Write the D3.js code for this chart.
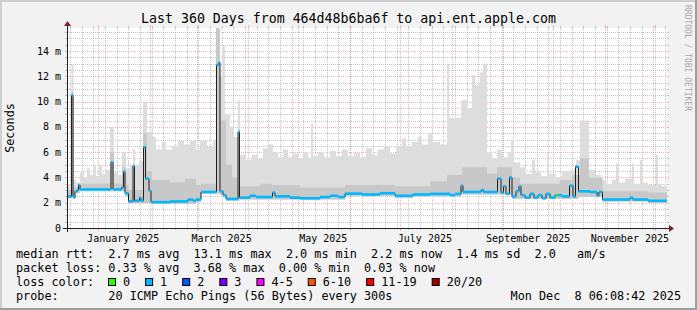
<!DOCTYPE html>
<html><head><meta charset="utf-8">
<script src="https://cdn.jsdelivr.net/npm/d3@7"></script>
<style>
html,body{margin:0;padding:0;background:#fff;}
svg{display:block;}
text{font-family:"DejaVu Sans Mono",monospace;white-space:pre;}
</style></head><body>
<svg id="c" width="697" height="310"></svg>
<script>
// ---------- data ----------
const title = "Last 360 Days from 464d48b6ba6f to api.ent.apple.com";
const startTime = "2024-12-13T06:08:42Z";
const endTime = "2025-12-08T06:08:42Z";
const totalDays = 360;
const yMax = 15.82;                       // ms, top of plot
const yTickValues = [0, 2, 4, 6, 8, 10, 12, 14];
const yTickLabels = ["0", "2 m", "4 m", "6 m", "8 m", "10 m", "12 m", "14 m"];
const yLabel = "Seconds";

// median rtt (ms): step values, day offset from start
const medDays = [0,2.7,3.6,4.2,4.8,6.2,6.9,7.8,26.4,27.6,32.7,33.9,34.8,36.9,39.6,40.5,43.5,44.4,45.9,47.1,49.2,50.4,61.8,72.6,75.6,77.4,80.4,89.7,91.2,91.8,93.6,95.4,102.6,103.5,109.8,113.4,123.3,124.8,133.8,139.8,151.8,157.8,162.6,166.8,177,187.8,196.8,207.6,217.8,229.8,232.8,236.4,237.6,248.4,249.9,258.3,260.4,261.9,263.4,265.5,267,269.4,271.2,272.4,274.8,277.8,280.2,282.6,285,287.4,289.8,292.8,297,301.5,303.6,305.1,306.9,313.8,318,319.2,321.3,337.8,339.6,348.6];
const medMs   = [2.5,10.5,2.5,2.4,2.9,3.0,3.4,3.05,5.2,3.05,3.2,4.45,2.75,2.1,4.9,2.15,2.4,2.15,6.4,3.9,2.95,2.05,2.1,2.25,2.15,2.25,2.85,12.9,13.1,2.9,2.6,2.3,7.6,2.4,2.55,2.45,2.8,2.5,2.4,2.35,2.45,2.55,2.45,2.72,2.65,2.75,2.55,2.65,2.7,2.6,2.7,3.35,2.85,3.0,2.85,3.9,2.8,3.3,2.7,4.0,2.5,2.9,3.3,2.6,2.4,2.7,2.4,2.6,2.35,2.7,2.4,2.6,2.5,3.35,2.5,4.85,2.9,2.85,2.55,2.85,2.25,2.4,2.25,2.15];

// highest ping (light smoke top)
const maxDays = [0,2.7,3.9,5.4,7.8,10.2,12,13.8,15.6,17.4,19.2,21,23.4,25.8,28.2,30.6,33,35.4,37.8,39.6,40.8,43.2,45.6,48,51,53.4,57,59.4,63,66.6,70.2,73.8,77.4,79.8,84,87.6,89.4,91.8,93.3,94.8,97.8,100.2,102.6,103.8,107.4,111,114.6,117.6,120.6,123.6,126.6,129.6,132.6,135.6,138.6,141.6,144.6,146.4,147.6,150.6,154.2,157.8,161.4,165,168.6,172.2,175.8,179.4,183,186.6,190.2,193.8,197.4,201,203.4,207,210.6,213,216.6,219,223.8,228,229.2,236.4,240,243,244.8,247.8,249.6,252,255,258,261,264.6,266.4,268.2,271.8,275.4,279,280.8,284.4,288,289.2,293.4,297,301.8,305.4,307.8,313.2,316.8,320.4,323.4,327,329.4,330.6,334.8,339,340.2,343.8,345,348.6,353.4,354.6,357];
const maxMs   = [3.4,12.9,3.8,3.6,4.4,4.0,4.7,4.2,5.0,4.1,5.0,4.3,4.6,8.0,4.4,4.2,6.0,4.7,5.0,6.2,5.0,5.3,10.0,7.6,7.2,6.2,6.8,6.2,6.5,6.9,6.6,6.9,6.2,6.9,6.4,7.0,15.8,12.0,14.4,9.0,8.0,7.2,10.1,5.8,5.4,5.8,5.5,6.3,6.6,6.0,5.6,6.2,5.6,5.9,5.5,6.0,5.6,8.2,5.7,6.0,5.6,6.1,5.7,6.2,5.7,6.0,5.6,6.3,5.8,6.2,6.4,5.9,6.5,7.1,6.5,6.8,7.2,6.6,7.5,6.8,6.6,13.0,8.7,10.1,9.5,12.1,11.3,12.3,13.0,6.0,5.5,6.2,5.6,6.0,7.0,5.2,4.8,4.3,5.4,4.4,4.1,5.9,4.3,4.0,4.5,4.6,5.4,8.5,4.6,4.2,3.8,3.5,3.8,5.1,3.6,3.9,5.1,3.5,5.4,3.6,3.4,5.8,3.5,3.3];

// upper quartile ping (darker smoke top)
const midDays = [0,2.7,3.9,7.8,25.8,28.2,33,35.4,36.9,39.6,40.8,45.6,48,51,61.8,70.8,77.4,80.4,89.4,91.8,95.4,99,102.6,103.8,115.8,123,139.8,166.8,196.8,217.8,228,237,252,258,267,271.8,295.8,303,307.8,313.2,321.3,348.6];
const midMs   = [3.0,10.8,3.2,3.5,6.0,3.5,4.8,3.4,3.0,5.0,3.0,7.5,4.5,3.8,3.6,3.9,3.4,3.5,15.8,8.5,5.0,4.0,7.8,3.3,3.5,3.4,3.2,3.4,3.3,3.7,4.2,4.8,4.3,4.8,4.0,3.5,3.8,4.2,5.5,4.0,2.9,2.8];

// lowest ping (smoke bottom)
const minDays = [0,4.2,4.8,7.8,34.8,36.9,50.4,77.4,80.4,91.8,93.6,95.4,103.5,166.8,196.8,207.6,236.4,267,306.9,321.3,348.6];
const minMs   = [2.35,2.3,2.75,2.9,2.55,1.95,1.9,2.05,2.7,2.6,2.45,2.15,2.25,2.55,2.4,2.5,2.65,2.3,2.45,2.1,2.0];

// packet loss class of the median line (index into lossLabels)
const lossDays = [0, 293.2, 294.4];
const lossClass = [1, 0, 1];

const lossLabels = ["0", "1", "2", "3", "4-5", "6-10", "11-19", "20/20"];
const lossColors = ["#26ff00", "#00b8ff", "#0059ff", "#7e00ff", "#ff00ff", "#ff5500", "#ff0000", "#a10000"];

const legendRtt  = "median rtt:  2.7 ms avg  13.1 ms max  2.0 ms min  2.2 ms now  1.4 ms sd  2.0   am/s";
const legendLoss = "packet loss: 0.33 % avg  3.68 % max  0.00 % min  0.03 % now";
const legendLossColor = "loss color:";
const legendProbe = "probe:       20 ICMP Echo Pings (56 Bytes) every 300s";
const stamp = "Mon Dec  8 06:08:42 2025";
const watermark = "RRDTOOL / TOBI OETIKER";

// ---------- drawing ----------
const W = 697, H = 310;
const X0 = 67, X1 = 667, Y0 = 228, Y1 = 28;
const svg = d3.select("#c");
const t0 = new Date(startTime), t1 = new Date(endTime);
const x = d3.scaleUtc().domain([t0, t1]).range([X0, X1]);
const y = d3.scaleLinear().domain([0, yMax]).range([Y0, Y1]);
const dd = d => new Date(t0.getTime() + d * 864e5);
const px = v => Math.round(v) + 0.5;

const C = {back:"#f2f2f2", shadeA:"#cfcfcf", shadeB:"#9e9e9e", grid:"rgba(150,150,150,0.55)",
  mgrid:"rgba(230,90,90,0.45)", arrow:"#801f1f", axis:"#1f1f1f"};

svg.append("rect").attr("width", W).attr("height", H).attr("fill", C.back);
svg.append("rect").attr("x",0).attr("y",0).attr("width",W).attr("height",2).attr("fill",C.shadeA);
svg.append("rect").attr("x",0).attr("y",0).attr("width",2).attr("height",H).attr("fill",C.shadeA);
svg.append("rect").attr("x",0).attr("y",H-2).attr("width",W).attr("height",2).attr("fill",C.shadeB);
svg.append("rect").attr("x",W-2).attr("y",0).attr("width",2).attr("height",H).attr("fill",C.shadeB);
svg.append("rect").attr("x", X0).attr("y", Y1).attr("width", X1 - X0).attr("height", Y0 - Y1).attr("fill", "#fff");

// grid
const g = svg.append("g").attr("shape-rendering", "crispEdges");
const minorY = d3.range(0.5, yMax, 0.5).filter(v => v % 2 !== 0);
const majorY = d3.range(2, yMax, 2);
const minorX = d3.utcSunday.range(t0, t1);
const majorX = d3.utcMonth.range(t0, t1);
minorY.forEach(v => {
  const yy = px(y(v));
  g.append("line").attr("x1", X0).attr("x2", X1).attr("y1", yy).attr("y2", yy)
    .attr("stroke", C.grid).attr("stroke-dasharray", "1,1");
  g.append("line").attr("x1", X0-2).attr("x2", X0).attr("y1", yy).attr("y2", yy).attr("stroke", C.grid);
  g.append("line").attr("x1", X1).attr("x2", X1+2).attr("y1", yy).attr("y2", yy).attr("stroke", C.grid);
});
minorX.forEach(t => {
  const xx = px(x(t));
  g.append("line").attr("x1", xx).attr("x2", xx).attr("y1", Y1).attr("y2", Y0)
    .attr("stroke", C.grid).attr("stroke-dasharray", "1,1");
  g.append("line").attr("x1", xx).attr("x2", xx).attr("y1", Y0).attr("y2", Y0+2).attr("stroke", C.grid);
  g.append("line").attr("x1", xx).attr("x2", xx).attr("y1", Y1-2).attr("y2", Y1).attr("stroke", C.grid);
});
majorY.forEach(v => {
  const yy = px(y(v));
  g.append("line").attr("x1", X0).attr("x2", X1).attr("y1", yy).attr("y2", yy)
    .attr("stroke", C.mgrid).attr("stroke-dasharray", "1,1");
  g.append("line").attr("x1", X0-2).attr("x2", X0).attr("y1", yy).attr("y2", yy).attr("stroke", C.mgrid);
  g.append("line").attr("x1", X1).attr("x2", X1+2).attr("y1", yy).attr("y2", yy).attr("stroke", C.mgrid);
});
majorX.forEach(t => {
  const xx = px(x(t));
  g.append("line").attr("x1", xx).attr("x2", xx).attr("y1", Y1).attr("y2", Y0)
    .attr("stroke", C.mgrid).attr("stroke-dasharray", "1,1");
  g.append("line").attr("x1", xx).attr("x2", xx).attr("y1", Y0).attr("y2", Y0+3).attr("stroke", C.mgrid);
  g.append("line").attr("x1", xx).attr("x2", xx).attr("y1", Y1-3).attr("y2", Y1).attr("stroke", C.mgrid);
});

// data
svg.append("clipPath").attr("id", "clip").append("rect")
  .attr("x", X0).attr("y", Y1).attr("width", X1 - X0).attr("height", Y0 - Y1);
const dg = svg.append("g").attr("clip-path", "url(#clip)");

function stepAt(days, vals, t) { const i = d3.bisectRight(days, t) - 1; return vals[Math.max(0, i)]; }
function band(dA, vA, dB, vB) {
  const bps = Array.from(new Set([...dA, ...dB])).sort((a, b) => a - b);
  const pts = bps.map(d => ({d, lo: stepAt(dA, vA, d), hi: stepAt(dB, vB, d)}));
  const last = pts[pts.length - 1];
  pts.push({d: totalDays, lo: last.lo, hi: last.hi});
  return pts;
}
const area = d3.area().curve(d3.curveStepAfter)
  .x(p => x(dd(p.d))).y0(p => y(p.lo)).y1(p => y(Math.min(p.hi, yMax + 0.5)));

dg.append("path").attr("d", area(band(minDays, minMs, maxDays, maxMs))).attr("fill", "#dddddd");
dg.append("path").attr("d", area(band(minDays, minMs, midDays, midMs))).attr("fill", "#c8c8c8");

const medPts = medDays.map((d, i) => ({d, v: medMs[i]}));
medPts.push({d: totalDays, v: medMs[medMs.length - 1]});
const line = d3.line().curve(d3.curveStepAfter).x(p => x(dd(p.d))).y(p => y(p.v));
dg.append("path").attr("d", line(medPts)).attr("fill", "none").attr("stroke", "#202020").attr("stroke-width", 1);

const segB = Array.from(new Set([...medDays, ...lossDays])).sort((a, b) => a - b);
segB.forEach((d, i) => {
  const dn = i + 1 < segB.length ? segB[i + 1] : totalDays;
  const v = stepAt(medDays, medMs, d);
  const cls = stepAt(lossDays, lossClass, d);
  const xa = x(dd(d)), xb = x(dd(dn));
  dg.append("rect").attr("x", xa).attr("width", Math.max(0.5, xb - xa))
    .attr("y", y(v) - 1.3).attr("height", 2.6).attr("fill", lossColors[cls]);
});

// axes
svg.append("line").attr("x1", X0 - 4).attr("x2", X1 + 4).attr("y1", Y0 + 0.5).attr("y2", Y0 + 0.5)
  .attr("stroke", C.axis).attr("shape-rendering", "crispEdges");
svg.append("line").attr("x1", X0 + 0.5).attr("x2", X0 + 0.5).attr("y1", Y0 + 4).attr("y2", Y1 - 4)
  .attr("stroke", C.axis).attr("shape-rendering", "crispEdges");
svg.append("path").attr("d", `M${X1+2},${Y0-3}L${X1+2},${Y0+4}L${X1+7},${Y0+0.5}Z`).attr("fill", C.arrow);
svg.append("path").attr("d", `M${X0-3},${Y1-2}L${X0+4},${Y1-2}L${X0+0.5},${Y1-7}Z`).attr("fill", C.arrow);

// y labels
yTickValues.forEach((v, i) => {
  svg.append("text").attr("x", 61).attr("y", y(v) + 3.5).attr("text-anchor", "end")
    .attr("font-size", "10px").attr("fill", "#000").text(yTickLabels[i]);
});
svg.append("text").attr("transform", `translate(14,${(Y0 + Y1) / 2}) rotate(-90)`)
  .attr("text-anchor", "middle").attr("font-size", "11.8px").text(yLabel);

// x labels: every second month, centred in the month
const fmt = d3.utcFormat("%B %Y");
majorX.filter(t => t.getUTCMonth() % 2 === 0).forEach(t => {
  const mid = d3.utcDay.offset(t, 15);
  svg.append("text").attr("x", x(mid)).attr("y", 242).attr("text-anchor", "middle")
    .attr("font-size", "10px").text(fmt(t));
});

// title
svg.append("text").attr("x", W / 2).attr("y", 23).attr("text-anchor", "middle")
  .attr("font-size", "13.25px").text(title);

// watermark
svg.append("text").attr("transform", "translate(685,5) rotate(90)")
  .attr("font-size", "8px").attr("fill", "#a8a8a8").text(watermark);

// legend
const LX = 16, LF = "11.8px";
svg.append("text").attr("x", LX).attr("y", 257.5).attr("font-size", LF).text(legendRtt);
svg.append("text").attr("x", LX).attr("y", 271.5).attr("font-size", LF).text(legendLoss);
svg.append("text").attr("x", LX).attr("y", 285.5).attr("font-size", LF).text(legendLossColor);
svg.append("text").attr("x", LX).attr("y", 299.5).attr("font-size", LF).text(legendProbe);
svg.append("text").attr("x", 681).attr("y", 299.5).attr("font-size", LF).attr("text-anchor", "end").text(stamp);

let bx = 108;
lossLabels.forEach((lab, i) => {
  svg.append("rect").attr("x", bx + 0.5).attr("y", 278.5).attr("width", 7).attr("height", 7)
    .attr("fill", lossColors[i]).attr("stroke", "#000").attr("stroke-width", 1);
  const tx = svg.append("text").attr("x", bx + 15).attr("y", 285.5).attr("font-size", LF).text(lab);
  bx = bx + 15 + tx.node().getComputedTextLength() + 15;
});
</script>
</body></html>
